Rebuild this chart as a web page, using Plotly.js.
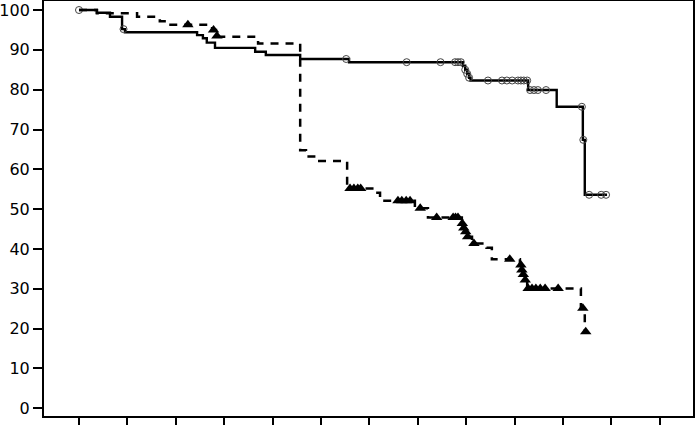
<!DOCTYPE html>
<html>
<head>
<meta charset="utf-8">
<script src="https://cdn.plot.ly/plotly-3.0.1.min.js"></script>
<style>html,body{margin:0;padding:0;background:#fff;}</style>
</head>
<body>
<div id="chart" style="width:696px;height:425px;"></div>
<script>
// Group A (solid line, open-circle censor marks): step times and survival (%)
const solidTimes = [0, 0.37, 0.64, 0.89, 0.95, 2.44, 2.56, 2.64, 2.81, 3.64, 3.86, 4.57, 5.58, 7.93, 7.98, 8.02, 8.06, 8.09, 9.28, 9.87, 10.41, 10.45, 10.91];
const solidSurv  = [100, 99.3, 98.3, 95.2, 94.4, 93.7, 92.9, 91.8, 90.5, 89.5, 88.7, 87.7, 86.9, 86.0, 85.0, 84.0, 83.0, 82.3, 79.9, 75.7, 67.4, 53.6, 53.6];
const solidCensorTimes = [0, 0.92, 5.52, 6.77, 7.47, 7.77, 7.83, 7.89, 7.98, 8.02, 8.06, 8.45, 8.74, 8.84, 8.95, 9.07, 9.13, 9.19, 9.26, 9.32, 9.40, 9.48, 9.65, 10.39, 10.42, 10.54, 10.79, 10.89];
const solidCensorSurv  = [100, 95.2, 87.7, 86.9, 86.9, 86.9, 86.9, 86.9, 85.0, 84.0, 83.0, 82.3, 82.3, 82.3, 82.3, 82.3, 82.3, 82.3, 82.3, 79.9, 79.9, 79.9, 79.9, 75.7, 67.4, 53.6, 53.6, 53.6];

// Group B (dashed line, filled-triangle censor marks)
const dashTimes = [0, 0.37, 1.20, 1.67, 1.84, 2.75, 2.83, 3.70, 4.57, 4.69, 4.90, 5.54, 6.12, 6.22, 6.94, 7.21, 7.91, 7.93, 7.98, 8.02, 8.12, 8.42, 8.53, 9.11, 9.15, 9.17, 9.21, 9.26, 10.37, 10.45];
const dashSurv  = [100, 99.2, 98.3, 97.2, 96.3, 95.0, 93.3, 91.6, 64.8, 63.2, 62.1, 55.2, 54.1, 52.1, 50.2, 47.9, 46.4, 45.3, 44.3, 43.1, 41.4, 40.3, 37.4, 36.0, 34.7, 33.6, 32.2, 30.1, 25.1, 19.2];
const dashCensorTimes = [2.25, 2.78, 2.85, 5.60, 5.68, 5.76, 5.82, 6.59, 6.67, 6.76, 6.84, 7.05, 7.39, 7.73, 7.78, 7.83, 7.92, 7.95, 7.99, 8.03, 8.16, 8.90, 9.13, 9.15, 9.18, 9.22, 9.28, 9.36, 9.44, 9.53, 9.63, 9.90, 10.41, 10.47];
const dashCensorSurv  = [96.3, 95.0, 93.5, 55.2, 55.2, 55.2, 55.2, 52.1, 52.1, 52.1, 52.1, 50.2, 47.9, 47.9, 47.9, 47.9, 46.4, 45.3, 44.3, 43.1, 41.4, 37.4, 36.0, 34.7, 33.6, 32.2, 30.1, 30.1, 30.1, 30.1, 30.1, 30.1, 25.1, 19.2];

const xTicks = [0,1,2,3,4,5,6,7,8,9,10,11,12];
const yTicks = [0,10,20,30,40,50,60,70,80,90,100];

const traces = [
  {x: solidTimes, y: solidSurv, mode: 'lines', line: {shape: 'hv', color: '#000', width: 2.4}, hoverinfo: 'skip'},
  {x: solidCensorTimes, y: solidCensorSurv, mode: 'markers',
   marker: {symbol: 'circle-open', size: 7, color: '#444', line: {width: 1, color: '#444'}}},
  {x: dashTimes, y: dashSurv, mode: 'lines', line: {shape: 'hv', color: '#000', width: 2.5, dash: '8px,7px'}},
  {x: dashCensorTimes, y: dashCensorSurv, mode: 'markers',
   marker: {symbol: 'triangle-up', size: 10, color: '#000'}}
];

const layout = {
  width: 696, height: 425,
  margin: {l: 44, r: 3, t: 1, b: 9, pad: 0},
  paper_bgcolor: '#fff', plot_bgcolor: '#fff',
  showlegend: false,
  font: {family: 'DejaVu Sans, sans-serif', size: 16, color: '#000'},
  xaxis: {
    range: [-0.723, 12.686], tickvals: xTicks, showticklabels: false,
    showgrid: false, zeroline: false, showline: true, mirror: true,
    linecolor: '#000', linewidth: 2, ticks: 'outside', ticklen: 9, tickwidth: 2, tickcolor: '#000'
  },
  yaxis: {
    range: [-1.93, 102.26], tickvals: yTicks, ticktext: yTicks.map(String),
    showgrid: false, zeroline: false, showline: true, mirror: true,
    linecolor: '#000', linewidth: 2, ticks: 'outside', ticklen: 9, tickwidth: 2, tickcolor: '#000',
    tickfont: {family: 'DejaVu Sans, sans-serif', size: 16, color: '#000'}
  }
};

Plotly.newPlot('chart', traces, layout, {staticPlot: true, displayModeBar: false});
</script>
</body>
</html>
